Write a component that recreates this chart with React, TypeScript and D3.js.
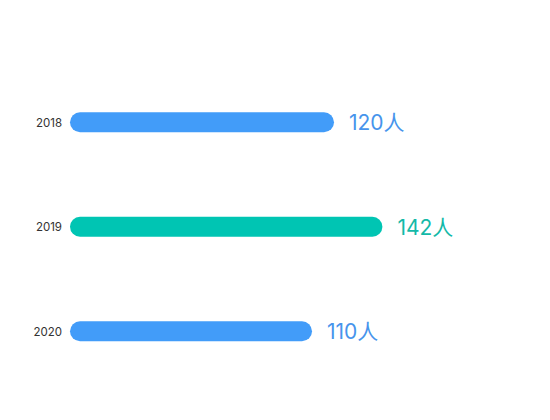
import React from "react";
import * as d3 from "d3";

const categories = ["2018", "2019", "2020"];
const values = [120, 142, 110];
const barColors = ["#429cf9", "#00c5b3", "#429cf9"];
const labelColors = ["#4794ec", "#13b9a8", "#4794ec"];
const unit = "人";

export default function App() {
  const width = 550;
  const height = 420;
  const x = d3.scaleLinear().domain([0, 200]).range([70, 510]);
  const y = d3.scaleBand().domain(categories).range([70, 383.5]);
  const barH = 20;
  return (
    <svg width={width} height={height} style={{ display: "block", position: "absolute", left: 0, top: 0 }}>
      <rect width={width} height={height} fill="#fff" />
      {categories.map((c, i) => {
        const cy = (y(c) as number) + y.bandwidth() / 2;
        const x1 = x(values[i]);
        return (
          <g key={c}>
            <text x={62} y={cy + 0.5} dy="0.35em" textAnchor="end" fontSize={11.5} fill="#333" fontFamily="Inter, 'Noto Sans', sans-serif">{c}</text>
            <rect x={x(0)} y={cy - barH / 2} width={x1 - x(0)} height={barH} rx={barH / 2} fill={barColors[i]} />
            <text x={x1 + 15} y={cy + 0.5} dy="0.35em" fontSize={21} fill={labelColors[i]} fontFamily="Inter, 'Noto Sans CJK SC', sans-serif">{values[i]}{unit}</text>
          </g>
        );
      })}
    </svg>
  );
}
